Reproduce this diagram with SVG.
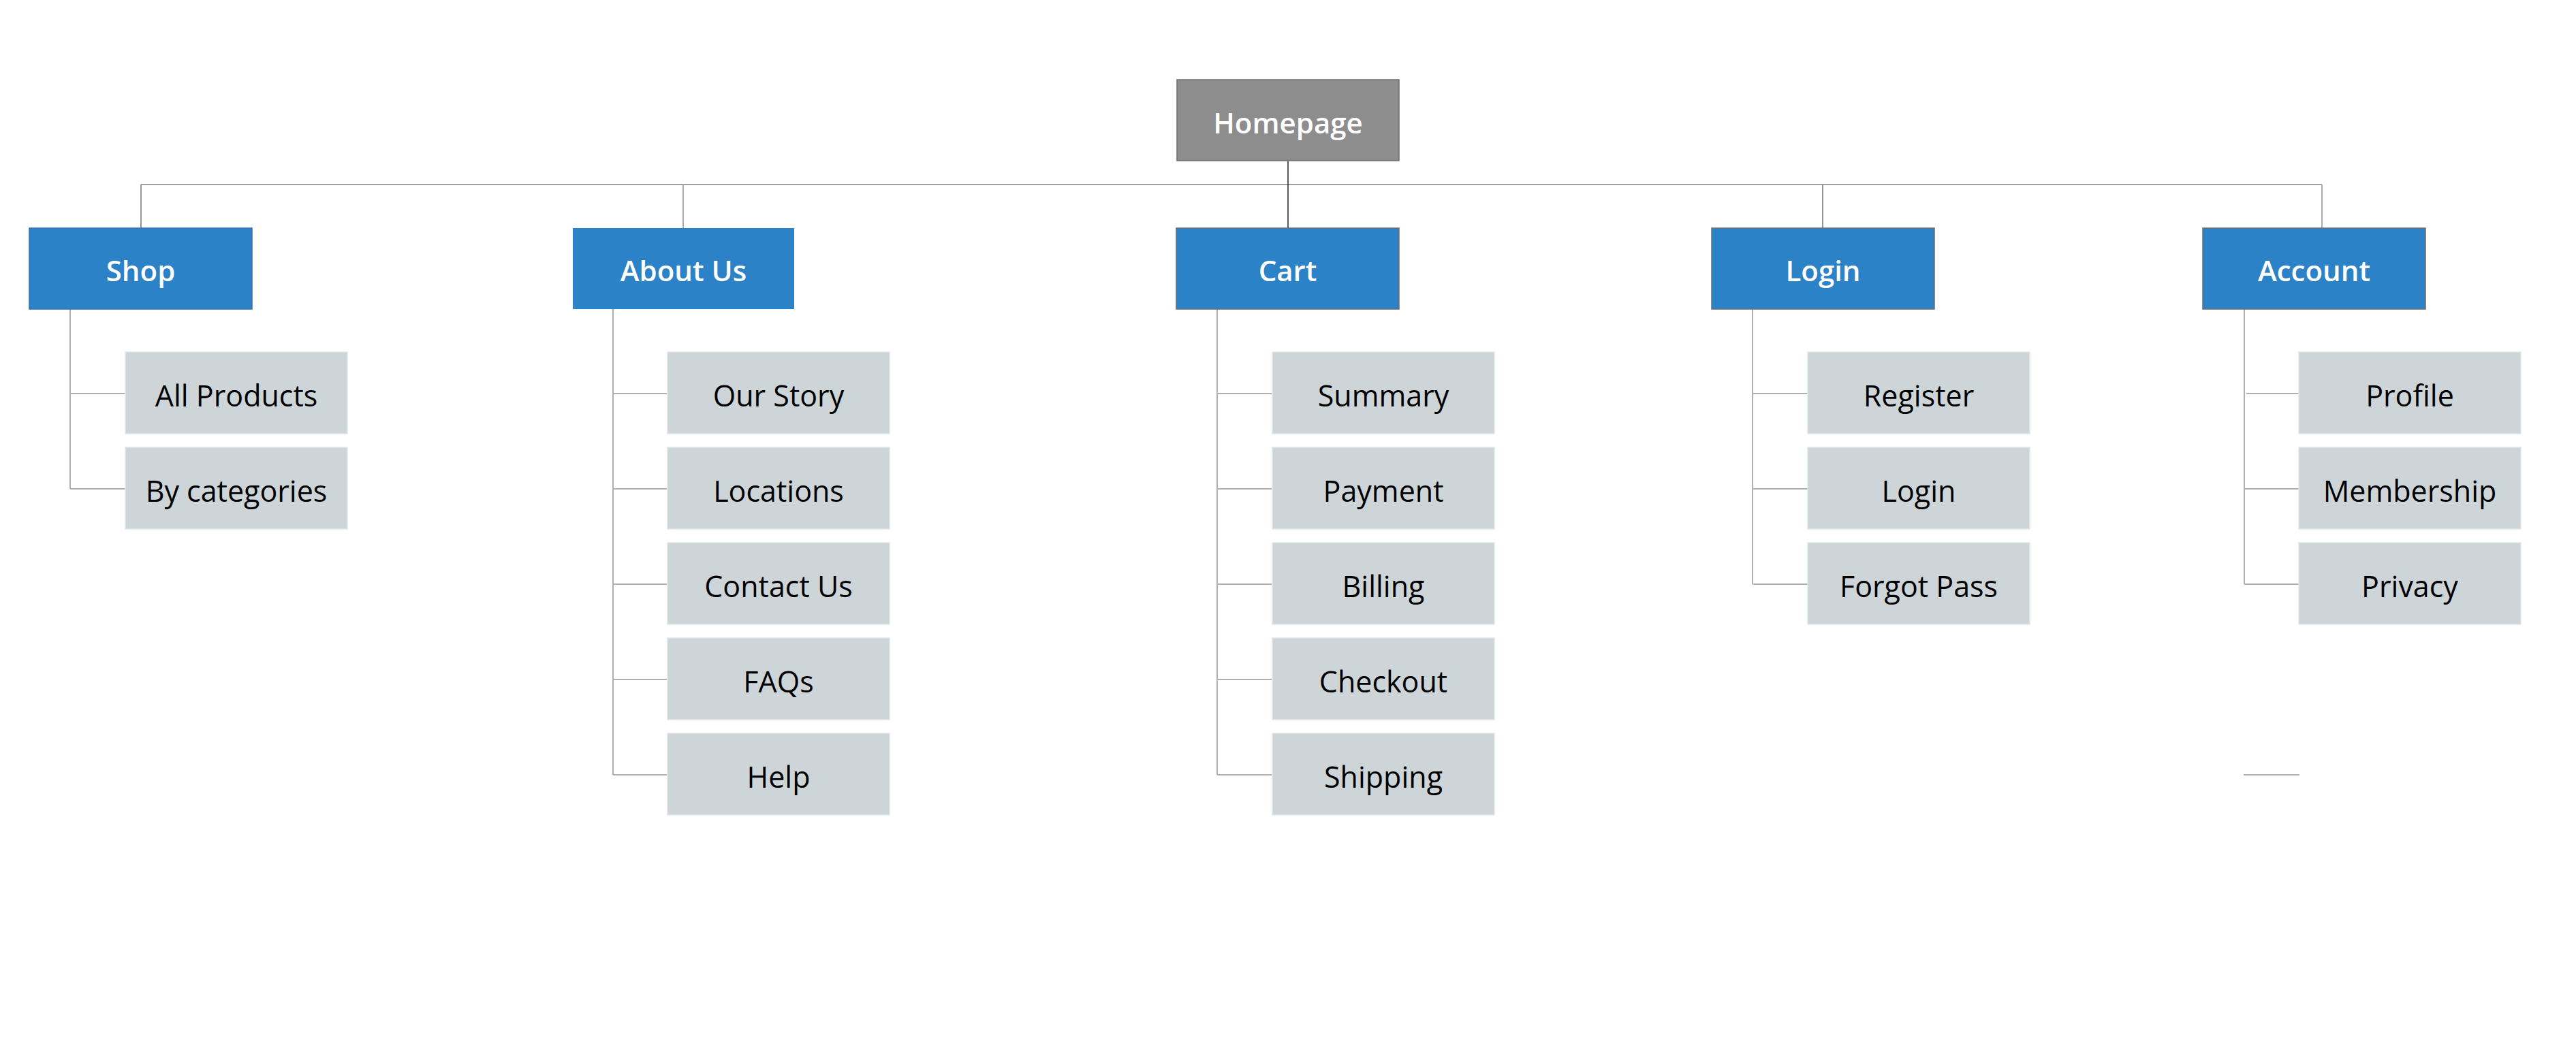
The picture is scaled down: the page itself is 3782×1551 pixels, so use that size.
<svg xmlns="http://www.w3.org/2000/svg" width="3782" height="1551" viewBox="0 0 3782 1551">
<style>
text{font-family:"Open Sans","Noto Sans","Liberation Sans",sans-serif;font-size:43px;text-anchor:middle}
.root rect{fill:#8e8d8e;stroke:#6e6e6e;stroke-width:1.5}
.root text{fill:#ffffff;font-weight:600;font-size:42px}
.sec rect{fill:#2c82c7;stroke:#6e6e6e;stroke-width:1.5}
.sec text{fill:#ffffff;font-weight:600;font-size:42px}
.leaf rect{fill:#ced5d9;stroke:#e2e6e8;stroke-width:1.5}
.leaf text{fill:#000000}
.bus{stroke:#7f7f7f;stroke-width:1.5;fill:none}
.drop{stroke:#8a8a8a;stroke-width:1.8;fill:none}
.drop2{stroke:#ababab;stroke-width:2;fill:none}
.main{stroke:#222222;stroke-width:1.5;fill:none}
.br{stroke:#b0b0b0;stroke-width:2;fill:none}
</style>
<rect width="3782" height="1551" fill="#ffffff"/>
<g id="connectors">
<line class="bus" x1="207" y1="271" x2="3409" y2="271"/>
<line class="main" x1="1891" y1="236" x2="1891" y2="335"/>
<line class="drop" x1="207" y1="271" x2="207" y2="335"/>
<line class="drop2" x1="1003" y1="271" x2="1003" y2="335"/>
<line class="drop" x1="2676" y1="271" x2="2676" y2="335"/>
<line class="drop2" x1="3409" y1="271" x2="3409" y2="335"/>
<path class="br" d="M103 454V718M103 578H184M103 718H184"/>
<path class="br" d="M900 454V1138M900 578H980M900 718H980M900 858H980M900 998H980M900 1138H980"/>
<path class="br" d="M1787 454V1138M1787 578H1868M1787 718H1868M1787 858H1868M1787 998H1868M1787 1138H1868"/>
<path class="br" d="M2573 454V858M2573 578H2654M2573 718H2654M2573 858H2654"/>
<path class="br" d="M3295 454V858M3298 578H3375M3295 718H3375M3295 858H3375"/>
<line class="br" x1="3294" y1="1138" x2="3376" y2="1138"/>
</g>
<g id="homepage" class="root"><rect x="1728" y="117" width="326" height="119"/><text x="1891" y="196">Homepage</text></g>
<g id="shop" class="sec"><rect x="43" y="335" width="327" height="119" style="stroke:#3670b3"/><text x="206.5" y="413">Shop</text></g>
<g id="about-us" class="sec"><rect x="841" y="335" width="325" height="119" style="stroke:none"/><text x="1003.5" y="413">About Us</text></g>
<g id="cart" class="sec"><rect x="1727" y="335" width="327" height="119"/><text x="1890.5" y="413">Cart</text></g>
<g id="login" class="sec"><rect x="2513" y="335" width="327" height="119"/><text x="2676.5" y="413">Login</text></g>
<g id="account" class="sec"><rect x="3234" y="335" width="327" height="119"/><text x="3397.5" y="413">Account</text></g>
<g id="all-products" class="leaf"><rect x="184" y="517" width="326" height="120"/><text x="347" y="597">All Products</text></g>
<g id="by-categories" class="leaf"><rect x="184" y="657" width="326" height="120"/><text x="347" y="737">By categories</text></g>
<g id="our-story" class="leaf"><rect x="980" y="517" width="326" height="120"/><text x="1143" y="597">Our Story</text></g>
<g id="locations" class="leaf"><rect x="980" y="657" width="326" height="120"/><text x="1143" y="737">Locations</text></g>
<g id="contact-us" class="leaf"><rect x="980" y="797" width="326" height="120"/><text x="1143" y="877">Contact Us</text></g>
<g id="faqs" class="leaf"><rect x="980" y="937" width="326" height="120"/><text x="1143" y="1017">FAQs</text></g>
<g id="help" class="leaf"><rect x="980" y="1077" width="326" height="120"/><text x="1143" y="1157">Help</text></g>
<g id="summary" class="leaf"><rect x="1868" y="517" width="326" height="120"/><text x="2031" y="597">Summary</text></g>
<g id="payment" class="leaf"><rect x="1868" y="657" width="326" height="120"/><text x="2031" y="737">Payment</text></g>
<g id="billing" class="leaf"><rect x="1868" y="797" width="326" height="120"/><text x="2031" y="877">Billing</text></g>
<g id="checkout" class="leaf"><rect x="1868" y="937" width="326" height="120"/><text x="2031" y="1017">Checkout</text></g>
<g id="shipping" class="leaf"><rect x="1868" y="1077" width="326" height="120"/><text x="2031" y="1157">Shipping</text></g>
<g id="register" class="leaf"><rect x="2654" y="517" width="326" height="120"/><text x="2817" y="597">Register</text></g>
<g id="login-page" class="leaf"><rect x="2654" y="657" width="326" height="120"/><text x="2817" y="737">Login</text></g>
<g id="forgot-pass" class="leaf"><rect x="2654" y="797" width="326" height="120"/><text x="2817" y="877">Forgot Pass</text></g>
<g id="profile" class="leaf"><rect x="3375" y="517" width="326" height="120"/><text x="3538" y="597">Profile</text></g>
<g id="membership" class="leaf"><rect x="3375" y="657" width="326" height="120"/><text x="3538" y="737">Membership</text></g>
<g id="privacy" class="leaf"><rect x="3375" y="797" width="326" height="120"/><text x="3538" y="877">Privacy</text></g>
</svg>
